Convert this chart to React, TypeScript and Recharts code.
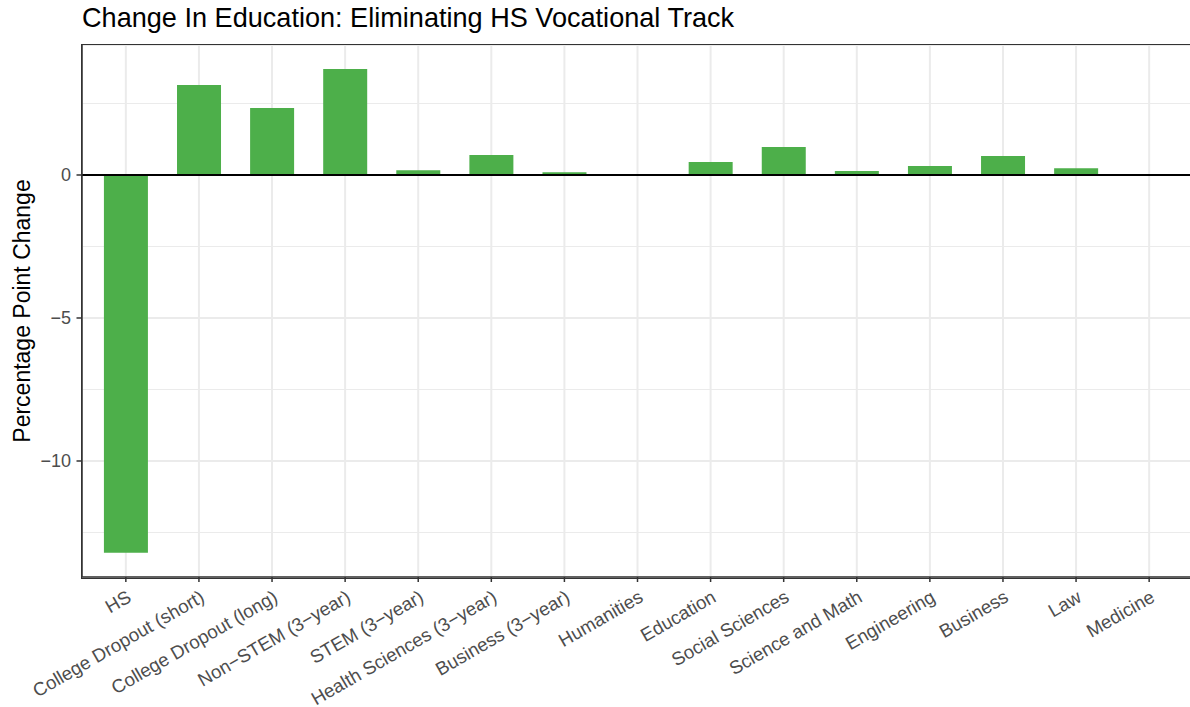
import React from 'react';
import {
  BarChart,
  Bar,
  XAxis,
  YAxis,
  CartesianGrid,
  ReferenceLine,
} from 'recharts';

// education categories along the x axis
const categories = [
  'HS',
  'College Dropout (short)',
  'College Dropout (long)',
  'Non\u2212STEM (3\u2212year)',
  'STEM (3\u2212year)',
  'Health Sciences (3\u2212year)',
  'Business (3\u2212year)',
  'Humanities',
  'Education',
  'Social Sciences',
  'Science and Math',
  'Engineering',
  'Business',
  'Law',
  'Medicine',
];

// percentage point change per category
const changes = [-13.21, 3.15, 2.34, 3.71, 0.17, 0.7, 0.1, 0, 0.45, 0.98, 0.14, 0.31, 0.66, 0.24, 0];

const yTicks = [-10, -5, 0];
const yMinorTicks = [-12.5, -7.5, -2.5, 2.5];
const yDomain = [-14.056, 4.545];

const chartData = categories.map((name, i) => ({ name, change: changes[i] }));

const FONT = '"Liberation Sans", Arial, Helvetica, sans-serif';
const GRID = '#EBEBEB';
const INK = '#333333';
const TICK_TEXT = '#4D4D4D';

const fmt = (v: number) => String(v).replace('-', '\u2212');

const XTick = (props: any) => {
  const { x, y, payload } = props;
  return (
    <g transform={`translate(${x},${y + 3})`}>
      <text
        transform="rotate(-30)"
        textAnchor="end"
        x={0}
        y={0}
        dy={13.5}
        fontSize={18.7}
        fontFamily={FONT}
        fill={TICK_TEXT}
      >
        {payload.value}
      </text>
    </g>
  );
};

const YTitle = () => (
  <text
    transform="translate(30,311) rotate(-90)"
    textAnchor="middle"
    fontSize={23}
    fontFamily={FONT}
    fill="#000"
  >
    Percentage Point Change
  </text>
);

export default function App() {
  return (
    <div
      style={{
        position: 'absolute',
        left: 0,
        top: 0,
        width: 1190,
        height: 707,
        overflow: 'hidden',
        background: '#fff',
      }}
    >
      <div
        style={{
          position: 'absolute',
          left: 82,
          top: 4,
          fontFamily: FONT,
          fontSize: 27.1,
          lineHeight: '27px',
          color: '#000',
          whiteSpace: 'nowrap',
        }}
      >
        Change In Education: Eliminating HS Vocational Track
      </div>
      <BarChart
        width={1193}
        height={707}
        data={chartData}
        margin={{ top: 45, right: 0, bottom: 0, left: 0 }}
        barCategoryGap="20%"
      >
        <CartesianGrid stroke={GRID} strokeWidth={2} />
        <CartesianGrid stroke={GRID} strokeWidth={1} vertical={false} horizontalValues={yMinorTicks} />
        <XAxis
          dataKey="name"
          interval={0}
          height={130}
          padding={{ left: 7.3, right: 7.3 }}
          tickSize={5}
          tickMargin={4}
          tick={<XTick />}
          tickLine={{ stroke: INK, strokeWidth: 1.5 }}
          axisLine={{ stroke: INK, strokeWidth: 1.5 }}
        />
        <YAxis
          type="number"
          domain={yDomain}
          allowDataOverflow
          ticks={yTicks}
          width={82}
          tickSize={5.5}
          tickMargin={5.5}
          tickFormatter={fmt}
          tick={{ fontSize: 18, fontFamily: FONT, fill: TICK_TEXT }}
          tickLine={{ stroke: INK, strokeWidth: 1.5 }}
          axisLine={{ stroke: INK, strokeWidth: 1.5 }}
          label={<YTitle />}
        />
        <Bar dataKey="change" fill="#4DAF4A" isAnimationActive={false} />
        <ReferenceLine y={0} stroke="#000" strokeWidth={1.8} />
      </BarChart>
      {/* panel border (right edge falls outside the picture) */}
      <div
        style={{
          position: 'absolute',
          left: 81.25,
          top: 44.25,
          width: 1120,
          height: 532.5,
          border: `1.5px solid ${INK}`,
          pointerEvents: 'none',
        }}
      />
    </div>
  );
}
